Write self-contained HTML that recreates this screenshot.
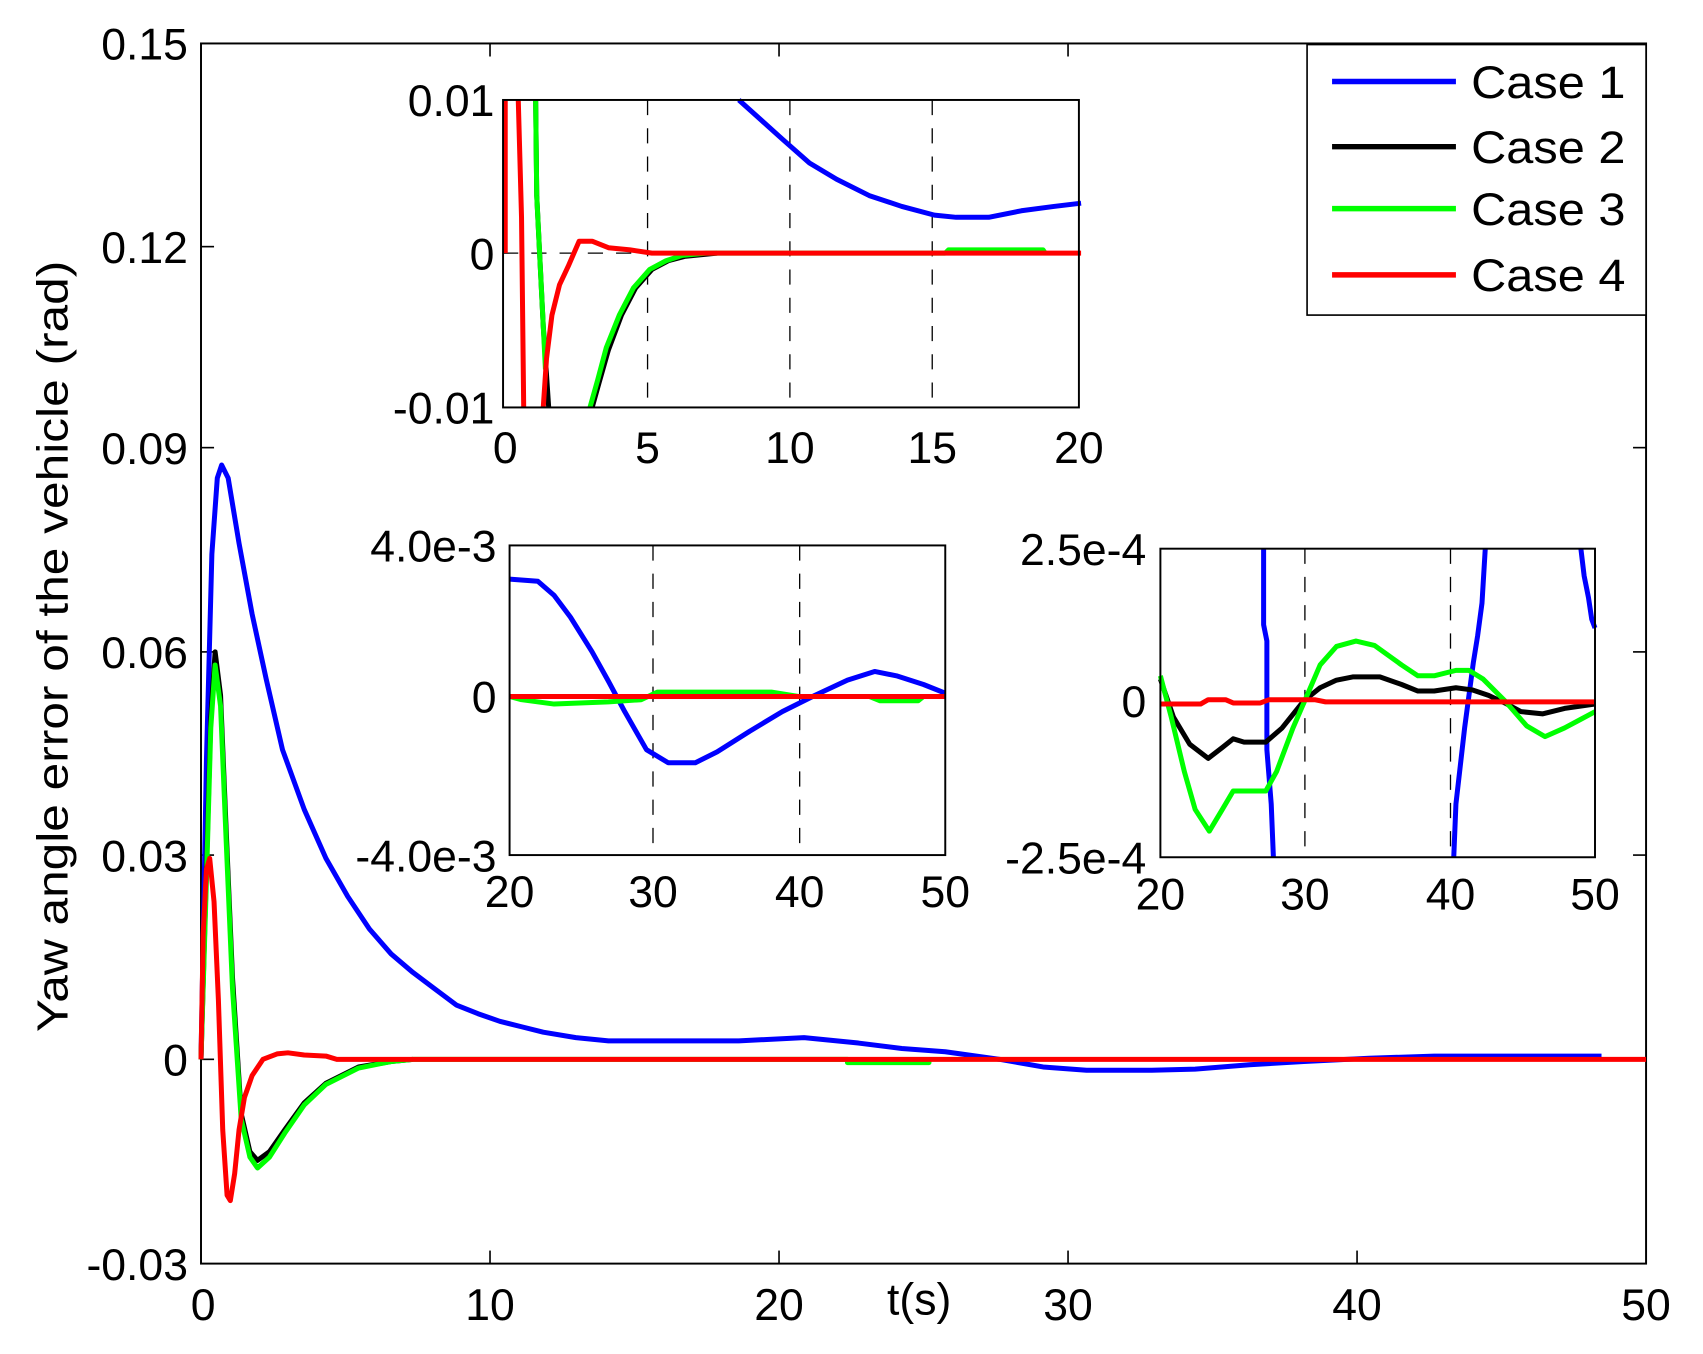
<!DOCTYPE html>
<html><head><meta charset="utf-8"><style>
html,body{margin:0;padding:0;background:#fff;}
svg{display:block;}
text{font-family:"Liberation Sans",Arial,sans-serif;fill:#000;}
</style></head><body>
<svg width="1703" height="1354" viewBox="0 0 1567.4 1246.2" preserveAspectRatio="none" xmlns="http://www.w3.org/2000/svg">
<rect width="1567.4" height="1246.2" fill="#fff"/>
<!-- main axes -->
<rect x="185" y="40" width="1330" height="1123" fill="none" stroke="#000" stroke-width="1.8"/>
<g stroke="#000" stroke-width="1.5">
<line x1="185" y1="227" x2="197" y2="227"/><line x1="185" y1="412" x2="197" y2="412"/><line x1="185" y1="600" x2="197" y2="600"/><line x1="185" y1="787" x2="197" y2="787"/><line x1="185" y1="975" x2="197" y2="975"/>
<line x1="1515" y1="227" x2="1503" y2="227"/><line x1="1515" y1="412" x2="1503" y2="412"/><line x1="1515" y1="600" x2="1503" y2="600"/><line x1="1515" y1="787" x2="1503" y2="787"/>
<line x1="451" y1="1163" x2="451" y2="1151"/><line x1="717" y1="1163" x2="717" y2="1151"/><line x1="983" y1="1163" x2="983" y2="1151"/><line x1="1249" y1="1163" x2="1249" y2="1151"/>
<line x1="451" y1="40" x2="451" y2="52"/><line x1="717" y1="40" x2="717" y2="52"/><line x1="983" y1="40" x2="983" y2="52"/><line x1="1249" y1="40" x2="1249" y2="52"/>
</g>
<g font-size="41" text-anchor="end">
<text x="173" y="55">0.15</text><text x="173" y="242">0.12</text><text x="173" y="427">0.09</text><text x="173" y="615">0.06</text><text x="173" y="802">0.03</text><text x="173" y="990">0</text><text x="173" y="1178">-0.03</text>
</g>
<g font-size="41" text-anchor="middle">
<text x="187" y="1215">0</text><text x="451" y="1215">10</text><text x="717" y="1215">20</text><text x="983" y="1215">30</text><text x="1249" y="1215">40</text><text x="1515" y="1215">50</text>
<text x="846" y="1210">t(s)</text>
</g>
<text transform="translate(62,595) rotate(-90)" font-size="40" text-anchor="middle" textLength="710" lengthAdjust="spacingAndGlyphs">Yaw angle error of the vehicle (rad)</text>

<!-- main series -->
<g fill="none" stroke-width="4.6" stroke-linejoin="round">
<polyline stroke="#0000ff" points="185,975 190,700 195,510 200,440 204,428 210,440 220,500 232,565 245,625 260,690 280,745 300,790 320,825 340,855 360,878 380,895 400,910 420,925 440,933 460,940 480,945 500,950 530,955 560,958 620,958 680,958 740,955 790,960 830,965 870,968 920,975 960,982 1000,985 1060,985 1100,984 1150,980 1200,977 1260,974 1320,972 1474,972"/>
<polyline stroke="#000000" points="185,975 190,800 194,660 198,600 203,640 208,760 214,900 222,1025 230,1060 237,1068 248,1060 262,1040 280,1015 300,997 330,982 360,977 380,975"/>
<polyline stroke="#00ff00" points="185,975 190,810 194,670 198,612 203,650 208,770 214,910 222,1030 230,1065 237,1075 248,1065 262,1043 280,1017 300,998 330,983 360,977 380,975 780,975 780,978 855,978 855,975"/>
<polyline stroke="#ff0000" points="185,975 187,860 190,800 193,790 197,830 201,920 205,1040 209,1100 212,1105 216,1080 220,1040 225,1010 232,990 242,975 255,970 265,969 280,971 300,972 310,975 1515,975"/>
</g>

<!-- inset 1 -->
<rect x="463" y="92" width="530" height="283" fill="#fff"/>
<g stroke="#000" stroke-width="1.2" stroke-dasharray="14,12"><line x1="596" y1="92" x2="596" y2="375"/><line x1="727" y1="92" x2="727" y2="375"/><line x1="858" y1="92" x2="858" y2="375"/><line x1="463" y1="233" x2="993" y2="233"/></g>
<g fill="none" stroke-width="4.6" stroke-linejoin="round">
<polyline stroke="#0000ff" points="680,92 700,110 720,128 745,150 770,165 800,180 830,190 860,198 880,200 910,200 940,194 970,190 995,187"/>
<polyline stroke="#000000" points="493,92 494,180 500,300 505,375"/>
<polyline stroke="#000000" points="545,375 552,350 560,322 572,290 585,265 600,248 615,240 630,236 660,233"/>
<polyline stroke="#00ff00" points="493,92 494,180 498,260 502,340"/>
<polyline stroke="#00ff00" points="543,375 550,350 558,320 570,290 583,265 598,248 613,240 628,235 650,233 870,233 873,230 960,230 962,233"/>
<polyline stroke="#ff0000" points="465,233 465,92"/>
<polyline stroke="#ff0000" points="477,92 480,200 482,375"/>
<polyline stroke="#ff0000" points="500,375 503,330 508,290 515,262 523,245 533,222 545,222 560,228 580,230 600,233 995,233"/>
</g>
<rect x="463" y="92" width="530" height="283" fill="none" stroke="#000" stroke-width="1.8"/>
<g font-size="41" text-anchor="end"><text x="455" y="107">0.01</text><text x="455" y="248">0</text><text x="455" y="390">-0.01</text></g>
<g font-size="41" text-anchor="middle"><text x="465" y="426">0</text><text x="596" y="426">5</text><text x="727" y="426">10</text><text x="858" y="426">15</text><text x="993" y="426">20</text></g>

<!-- inset 2 -->
<rect x="469" y="502" width="401" height="285" fill="#fff"/>
<g stroke="#000" stroke-width="1.2" stroke-dasharray="14,12"><line x1="601" y1="502" x2="601" y2="787"/><line x1="736" y1="502" x2="736" y2="787"/></g>
<g fill="none" stroke-width="4.6" stroke-linejoin="round">
<polyline stroke="#0000ff" points="469,533 495,535 510,548 525,568 545,600 560,627 575,655 595,690 615,702 640,702 660,692 690,673 720,655 750,640 780,626 805,618 825,622 850,630 870,638"/>
<polyline stroke="#00ff00" points="469,641 480,644 510,648 560,646 590,644 605,637 710,637 735,641 800,641 810,645 845,645 850,641"/>
<polyline stroke="#ff0000" points="469,641 870,641"/>
</g>
<rect x="469" y="502" width="401" height="285" fill="none" stroke="#000" stroke-width="1.8"/>
<g font-size="41" text-anchor="end"><text x="457" y="517">4.0e-3</text><text x="457" y="656">0</text><text x="457" y="802">-4.0e-3</text></g>
<g font-size="41" text-anchor="middle"><text x="469" y="835">20</text><text x="601" y="835">30</text><text x="736" y="835">40</text><text x="870" y="835">50</text></g>

<!-- inset 3 -->
<rect x="1068" y="505" width="400" height="284" fill="#fff"/>
<g stroke="#000" stroke-width="1.2" stroke-dasharray="14,12"><line x1="1201" y1="505" x2="1201" y2="789"/><line x1="1335" y1="505" x2="1335" y2="789"/></g>
<g fill="none" stroke-width="4.6" stroke-linejoin="round">
<polyline stroke="#0000ff" points="1163,505 1163,575 1166,590 1166,690 1170,740 1172,789"/>
<polyline stroke="#0000ff" points="1338,789 1340,740 1344,705 1348,670 1352,640 1356,610 1360,585 1364,555 1367,505"/>
<polyline stroke="#0000ff" points="1455,505 1458,530 1462,550 1465,570 1468,578"/>
<polyline stroke="#000000" points="1068,625 1080,660 1095,685 1112,698 1125,688 1135,680 1145,683 1165,683 1180,670 1200,645 1215,633 1230,626 1245,623 1270,623 1290,630 1305,636 1320,636 1340,633 1355,635 1370,640 1385,647 1400,655 1420,657 1440,652 1468,648"/>
<polyline stroke="#00ff00" points="1068,622 1078,660 1090,710 1100,745 1113,765 1125,745 1135,728 1165,728 1175,710 1190,670 1203,640 1215,612 1230,595 1248,590 1265,594 1290,612 1305,622 1320,622 1340,617 1352,617 1365,625 1385,645 1405,668 1422,678 1440,670 1455,662 1468,655"/>
<polyline stroke="#ff0000" points="1068,648 1105,648 1112,644 1128,644 1135,647 1160,647 1168,644 1210,644 1220,646 1468,646"/>
</g>
<rect x="1068" y="505" width="400" height="284" fill="none" stroke="#000" stroke-width="1.8"/>
<g font-size="41" text-anchor="end"><text x="1055" y="520">2.5e-4</text><text x="1055" y="660">0</text><text x="1055" y="804">-2.5e-4</text></g>
<g font-size="41" text-anchor="middle"><text x="1068" y="837">20</text><text x="1201" y="837">30</text><text x="1335" y="837">40</text><text x="1468" y="837">50</text></g>

<!-- legend -->
<rect x="1203" y="41" width="312" height="249" fill="#fff" stroke="#000" stroke-width="1.5"/>
<g stroke-width="5">
<line x1="1226" y1="75" x2="1340" y2="75" stroke="#0000ff"/>
<line x1="1226" y1="135" x2="1340" y2="135" stroke="#000"/>
<line x1="1226" y1="192" x2="1340" y2="192" stroke="#00ff00"/>
<line x1="1226" y1="253" x2="1340" y2="253" stroke="#ff0000"/>
</g>
<g font-size="42"><text x="1354" y="90" textLength="142" lengthAdjust="spacingAndGlyphs">Case 1</text><text x="1354" y="150" textLength="142" lengthAdjust="spacingAndGlyphs">Case 2</text><text x="1354" y="207" textLength="142" lengthAdjust="spacingAndGlyphs">Case 3</text><text x="1354" y="268" textLength="142" lengthAdjust="spacingAndGlyphs">Case 4</text></g>
</svg>
</body></html>
